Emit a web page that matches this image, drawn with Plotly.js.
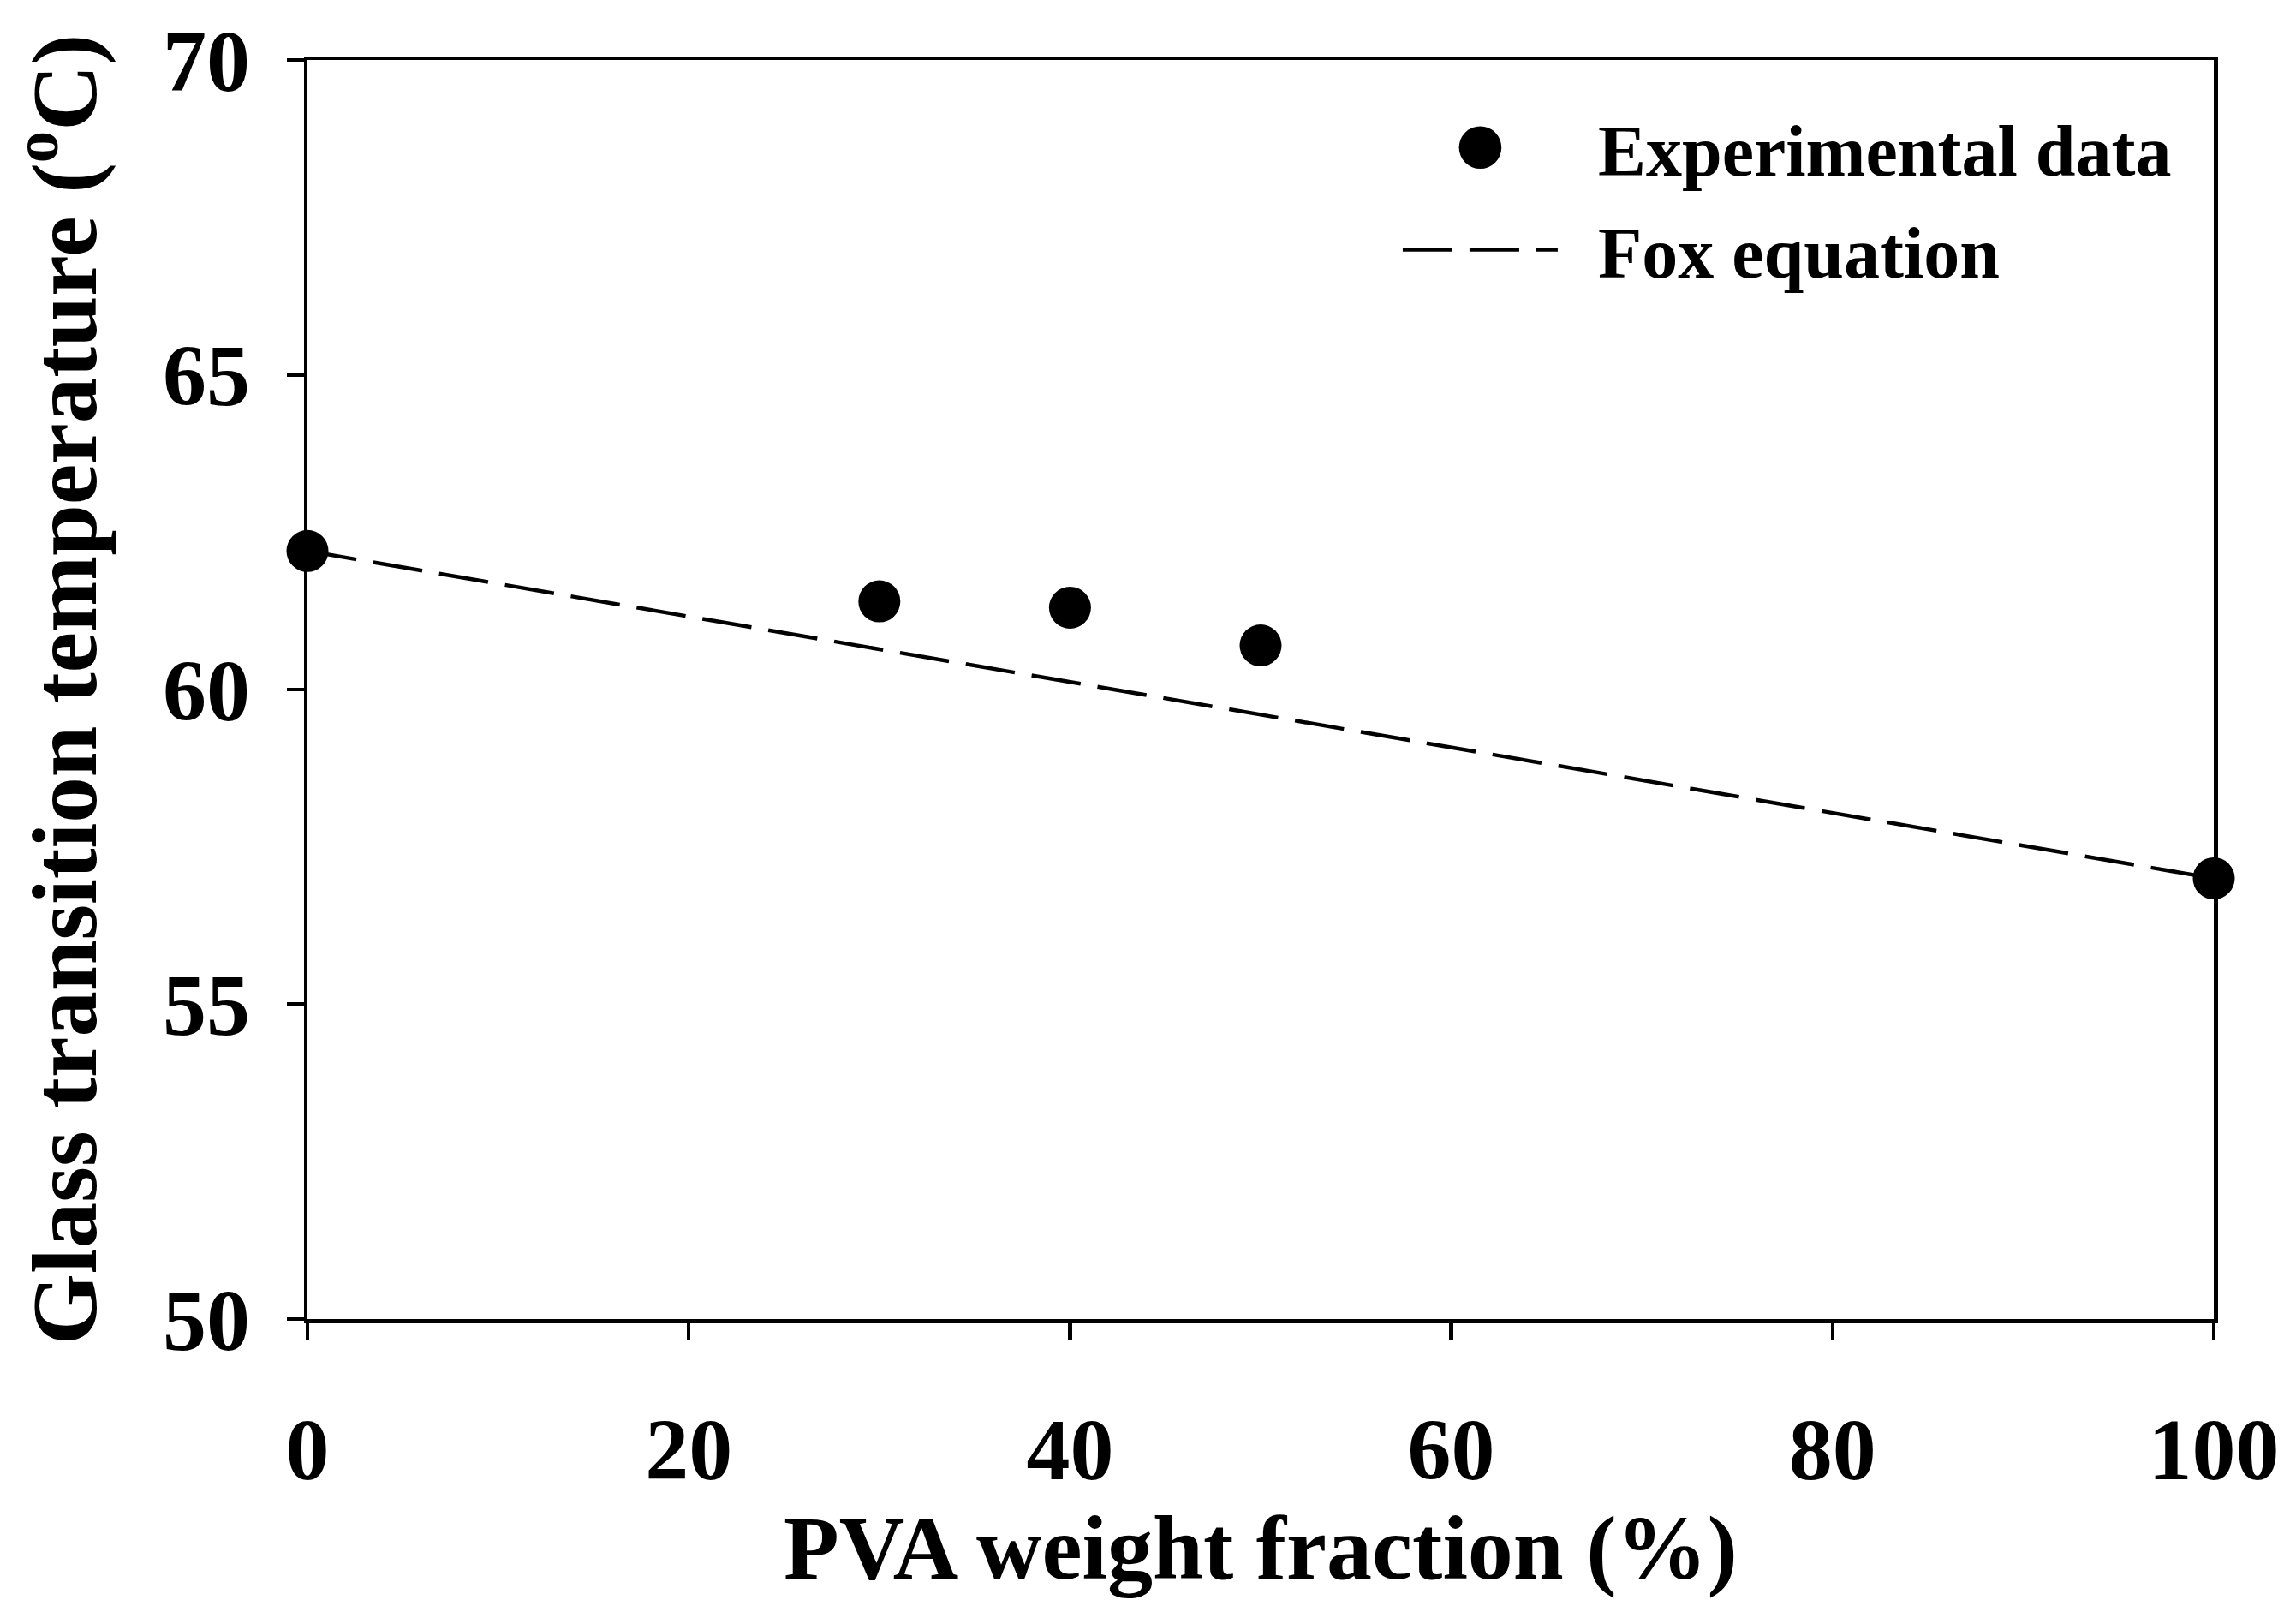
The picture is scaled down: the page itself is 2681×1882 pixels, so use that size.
<!DOCTYPE html>
<html>
<head>
<meta charset="utf-8">
<script src="https://cdn.plot.ly/plotly-3.0.1.min.js"></script>
<style>
  html, body { margin: 0; padding: 0; background: #fff; }
  #plot { width: 2681px; height: 1882px; }
</style>
</head>
<body>
<div id="plot"></div>
<script>
// PVA weight fraction (%) vs glass transition temperature (oC)
const expX = [0, 30, 40, 50, 100];
const expY = [62.2, 61.4, 61.3, 60.7, 57.0];

// Fox equation prediction
const foxX = [0, 50, 100];
const foxY = [62.2, 59.6, 57.0];

const xTicks = [0, 20, 40, 60, 80, 100];
const yTicks = [50, 55, 60, 65, 70];

const serif = 'Liberation Serif, Times New Roman, serif';

function init() {
    const fox = {
        x: foxX,
        y: foxY,
        name: '\u00a0\u00a0Fox equation',
        mode: 'lines',
        type: 'scatter',
        legendrank: 2,
        legendgroup: 'b',
        line: { color: 'black', width: 4.5, dash: '58px,20px' },
        cliponaxis: false
    };

    const experimental = {
        x: expX,
        y: expY,
        name: '\u00a0\u00a0Experimental data',
        mode: 'markers',
        type: 'scatter',
        legendrank: 1,
        legendgroup: 'a',
        marker: { color: 'black', size: 49, symbol: 'circle' },
        cliponaxis: false
    };

    const axisBase = {
        showgrid: false,
        zeroline: false,
        showline: true,
        linecolor: 'black',
        linewidth: 4.5,
        mirror: true,
        ticks: 'outside',
        ticklen: 20,
        tickwidth: 4.5,
        tickcolor: 'black',
        automargin: false,
        tickfont: { family: serif, size: 102, color: 'black', weight: 'bold' }
    };

    const layout = {
        width: 2681,
        height: 1882,
        margin: { l: 359, r: 96, t: 70, b: 342 },
        paper_bgcolor: 'white',
        plot_bgcolor: 'white',
        font: { family: serif, color: 'black', weight: 'bold' },
        showlegend: true,
        legend: {
            x: 0.5723,
            y: 0.972,
            xanchor: 'left',
            yanchor: 'top',
            bgcolor: 'rgba(0,0,0,0)',
            itemwidth: 181,
            tracegroupgap: 7,
            font: { family: serif, size: 84, color: 'black', weight: 'bold' }
        },
        xaxis: Object.assign({}, axisBase, {
            range: [0, 100],
            tickvals: xTicks,
            ticklabelstandoff: 40,
            title: {
                text: 'PVA weight fraction (%)',
                standoff: 8,
                font: { family: serif, size: 106, color: 'black', weight: 'bold' }
            }
        }),
        yaxis: Object.assign({}, axisBase, {
            range: [50, 70],
            tickvals: yTicks,
            ticklabelstandoff: 22,
            title: {
                text: 'Glass transition temperature (<sup>o</sup>C)',
                standoff: 55,
                font: { family: serif, size: 107, color: 'black', weight: 'bold' }
            }
        })
    };

    Plotly.newPlot('plot', [fox, experimental], layout, { staticPlot: true }).then(enlargeLegendMarker);
}

// legend markers are capped at 16px by plotly, scale the dot up to match the plot
function enlargeLegendMarker() {
    document.querySelectorAll('.legend .legendpoints path.scatterpts').forEach((p) => {
        const t = p.getAttribute('transform') || '';
        p.setAttribute('transform', t + ' scale(3.1)');
    });
}

init();
</script>
</body>
</html>
